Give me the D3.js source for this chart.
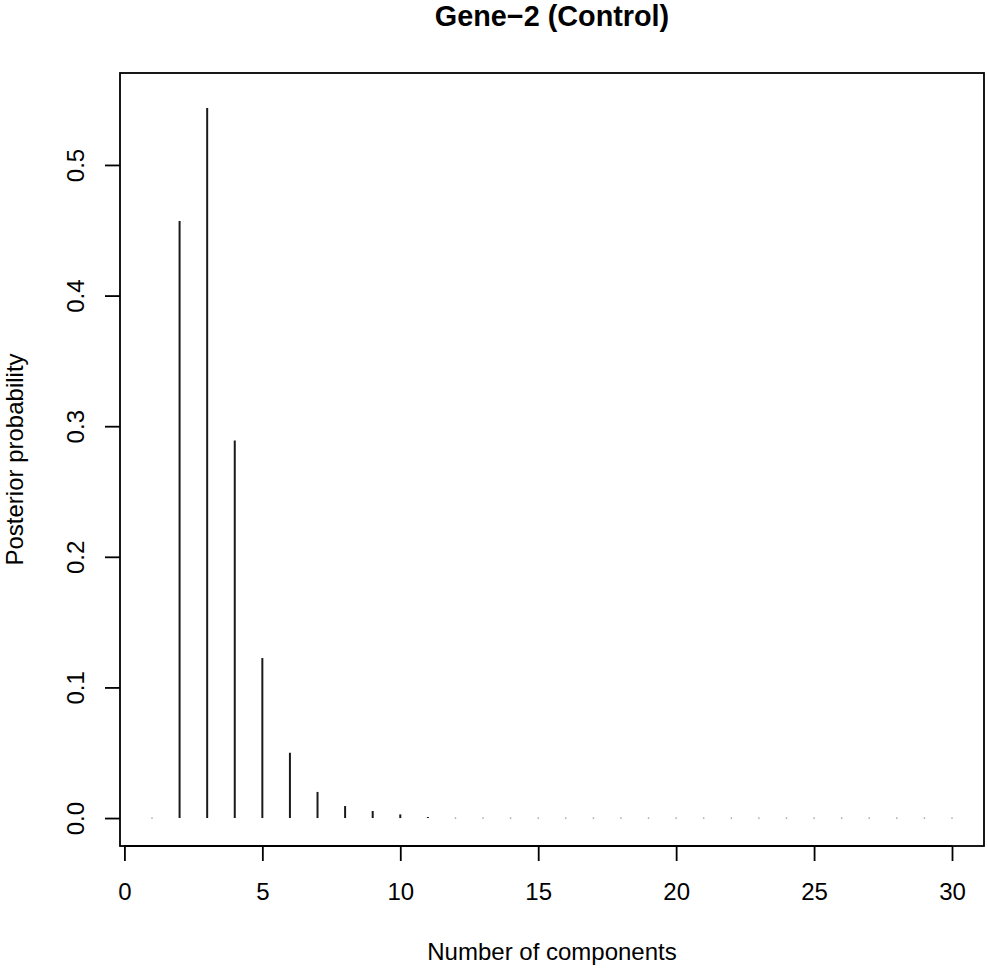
<!DOCTYPE html>
<html>
<head>
<meta charset="utf-8">
<script src="https://cdn.jsdelivr.net/npm/d3@7"></script>
<style>
  body { margin: 0; background: #fff; }
  text { font-family: "Liberation Sans", Arial, Helvetica, sans-serif; fill: #000; }
</style>
</head>
<body>
<div id="chart"></div>
<script>
// number of components and posterior probability
var components = d3.range(1, 31);
var probs = [0, 0.457, 0.5436, 0.289, 0.1225, 0.050, 0.020, 0.0092, 0.0054, 0.0028,
             0.0008, 0, 0, 0, 0, 0, 0, 0, 0, 0,
             0, 0, 0, 0, 0, 0, 0, 0, 0, 0];
var xTicks = [0, 5, 10, 15, 20, 25, 30];
var yTicks = [0, 0.1, 0.2, 0.3, 0.4, 0.5];

var width = 988, height = 969,
    box = {left: 120, right: 984, top: 73, bottom: 846};

var svg = d3.select("#chart").append("svg")
    .attr("width", width)
    .attr("height", height);

var x = d3.scaleLinear().domain([-0.16, 31.16]).range([box.left, box.right]);
var y = d3.scaleLinear().domain([-0.0214, 0.5704]).range([box.bottom, box.top]);

var data = components.map(function (c, i) { return {k: c, p: probs[i]}; });

// stems (type = "h")
svg.selectAll(".stem")
    .data(data.filter(function (d) { return d.p > 0; }))
    .enter()
    .append("line")
    .attr("class", "stem")
    .attr("x1", function (d) { return x(d.k); })
    .attr("x2", function (d) { return x(d.k); })
    .attr("y1", y(0))
    .attr("y2", function (d) { return y(d.p); })
    .attr("stroke", "#1a1a1a")
    .attr("stroke-width", 2);

// zero length stems only leave a faint dot
svg.selectAll(".dot")
    .data(data.filter(function (d) { return d.p === 0; }))
    .enter()
    .append("circle")
    .attr("cx", function (d) { return x(d.k); })
    .attr("cy", y(0))
    .attr("r", 0.9)
    .attr("fill", "#aaa");

// box
svg.append("rect")
    .attr("x", box.left)
    .attr("y", box.top)
    .attr("width", box.right - box.left)
    .attr("height", box.bottom - box.top)
    .attr("fill", "none")
    .attr("stroke", "#000")
    .attr("stroke-width", 1.8);

// x axis
var xAxis = svg.append("g")
    .attr("transform", "translate(0," + box.bottom + ")")
    .call(d3.axisBottom(x).tickValues(xTicks).tickSize(15).tickPadding(22).tickFormat(d3.format("d")));
xAxis.select(".domain").remove();
xAxis.selectAll(".tick line").attr("stroke-width", 1.8);
xAxis.selectAll("text").attr("font-size", 24).style("font-family", "Liberation Sans, Arial, sans-serif").attr("fill", "#000");
xAxis.append("line")
    .attr("x1", x(xTicks[0]))
    .attr("x2", x(xTicks[xTicks.length - 1]))
    .attr("stroke", "#000")
    .attr("stroke-width", 1.8);

// y axis, labels rotated like R's default las = 0
var yAxis = svg.append("g")
    .attr("transform", "translate(" + box.left + ",0)")
    .call(d3.axisLeft(y).tickValues(yTicks).tickSize(15).tickFormat(d3.format(".1f")));
yAxis.select(".domain").remove();
yAxis.selectAll(".tick line").attr("stroke-width", 1.8);
yAxis.selectAll("text")
    .attr("transform", "rotate(-90)")
    .attr("x", 0)
    .attr("y", -36)
    .attr("dy", 0)
    .attr("text-anchor", "middle")
    .attr("font-size", 24)
    .style("font-family", "Liberation Sans, Arial, sans-serif")
    .attr("fill", "#000");

// title and axis titles
svg.append("text")
    .attr("x", (box.left + box.right) / 2)
    .attr("y", 26)
    .attr("text-anchor", "middle")
    .attr("font-size", 28.8)
    .attr("font-weight", "bold")
    .text("Gene\u22122 (Control)");

svg.append("text")
    .attr("x", (box.left + box.right) / 2)
    .attr("y", 960)
    .attr("text-anchor", "middle")
    .attr("font-size", 24)
    .text("Number of components");

svg.append("text")
    .attr("transform", "translate(23," + (box.top + box.bottom) / 2 + ") rotate(-90)")
    .attr("text-anchor", "middle")
    .attr("font-size", 24)
    .text("Posterior probability");
</script>
</body>
</html>
